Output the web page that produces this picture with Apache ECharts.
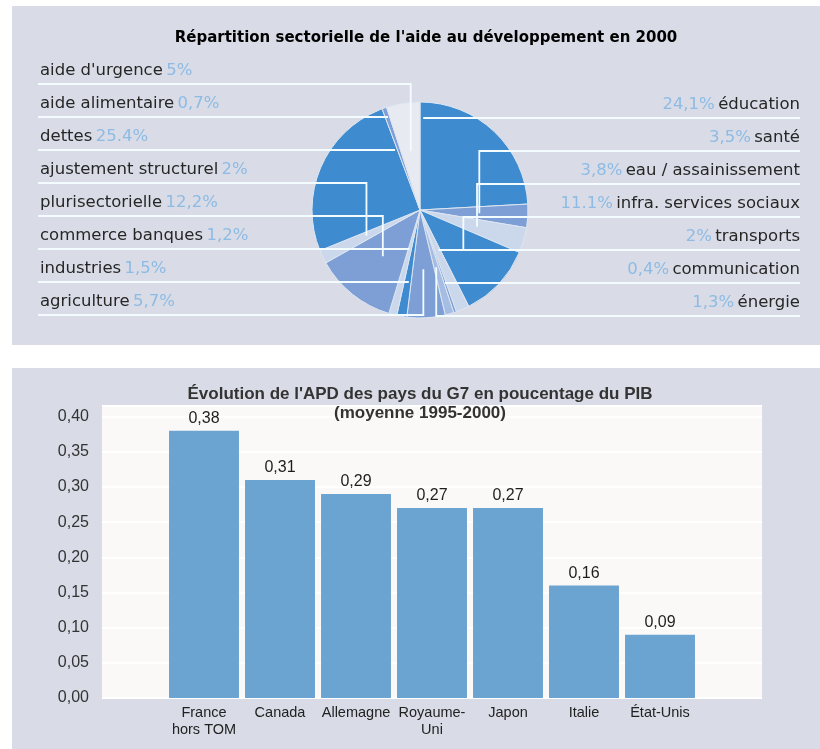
<!DOCTYPE html>
<html>
<head>
<meta charset="utf-8">
<script src="https://cdn.jsdelivr.net/npm/echarts@6/dist/echarts.min.js"></script>
<style>
  html, body { margin: 0; padding: 0; background: #fff; }
  #main { width: 820px; height: 749px; }
</style>
</head>
<body>
<div id="main"></div>
<script>
// pie : clockwise from 12 o'clock, the first 7 are labelled on the right
const pieNames = ['éducation', 'santé', 'eau / assainissement', 'infra. services sociaux', 'transports',
  'communication', 'énergie', 'agriculture', 'industries', 'commerce banques', 'plurisectorielle',
  'ajustement structurel', 'dettes', 'aide alimentaire', "aide d'urgence"];
const pieValues = [24.1, 3.5, 3.8, 11.1, 2, 0.4, 1.3, 5.7, 1.5, 1.2, 12.2, 2, 25.4, 0.7, 5];
const pieLabels = ['24,1%', '3,5%', '3,8%', '11.1%', '2%', '0,4%', '1,3%', '5,7%', '1,5%', '1,2%',
  '12,2%', '2%', '25.4%', '0,7%', '5%'];
const rightCount = 7;

// bars
const countries = ['France\nhors TOM', 'Canada', 'Allemagne', 'Royaume-\nUni', 'Japon', 'Italie', 'État-Unis'];
const apdValues = [0.38, 0.31, 0.29, 0.27, 0.27, 0.16, 0.09];

const dark = '#3f8bd0', mid = '#7d9fd5', light = '#a6bde3', pale = '#cbd8ec', blank = '#e7eaf1';
const sliceColors = [dark, mid, pale, dark, pale, mid, light, mid, dark, pale, mid, pale, dark, mid, blank];

const CX = 420, CY = 210, R = 108;
const total = pieValues.reduce((a, b) => a + b, 0);
const starts = [];
let acc = 0;
pieValues.forEach(v => { starts.push(acc / total * 360); acc += v; });

function rowY(i) {
  return i < rightCount ? 118 + i * 33 : 84 + (pieValues.length - 1 - i) * 33;
}

// put every label on its row, leader line runs along the row into the slice
function placeLabel(params) {
  const i = params.dataIndex;
  const right = i < rightCount;
  const ly = rowY(i);
  const a0 = starts[i], a1 = a0 + pieValues[i] / total * 360;
  const m = Math.min(2, (a1 - a0) / 3);
  const dy = CY - ly;
  let best = null;
  for (let t = a0 + m; t <= a1 - m + 1e-9; t += 0.25) {
    const c = Math.cos(t * Math.PI / 180);
    if (Math.abs(c) < 1e-6) continue;
    const d = dy / c;
    if (d < 0.25 * R || d > 0.95 * R) continue;
    if (!best || Math.abs(d - 0.6 * R) < Math.abs(best.d - 0.6 * R)) best = { t: t, d: d };
  }
  const edge = right ? 800 : 38;
  let pts;
  if (best) {
    const x = CX + best.d * Math.sin(best.t * Math.PI / 180);
    pts = [[x, ly], [x, ly], [edge, ly]];
  } else {
    const t = (a0 + a1) / 2 * Math.PI / 180, d = 0.55 * R;
    const x = CX + d * Math.sin(t), y = CY - d * Math.cos(t);
    pts = [[x, y], [x, ly], [edge, ly]];
  }
  return {
    x: right ? 800 : 40,
    y: ly - 13,
    align: right ? 'right' : 'left',
    verticalAlign: 'middle',
    labelLinePoints: pts
  };
}

const fmtY = v => v > 0.4001 ? '' : v.toFixed(2).replace('.', ',');
const yMax = 0.415;

const pieBase = {
  type: 'pie',
  center: [CX, CY],
  radius: R,
  startAngle: 90,
  clockwise: true,
  avoidLabelOverlap: false,
  emphasis: { disabled: true }
};

const chart = echarts.init(document.getElementById('main'));
chart.setOption({
  animation: false,
  backgroundColor: '#fff',
  graphic: [
    { type: 'rect', z: -10, shape: { x: 12, y: 6, width: 808, height: 339 }, style: { fill: '#d9dce6' } },
    { type: 'rect', z: -10, shape: { x: 12, y: 368, width: 808, height: 381 }, style: { fill: '#d9dce6' } }
  ],
  title: [
    {
      text: "Répartition sectorielle de l'aide au développement en 2000",
      left: 421, top: 26, textAlign: 'center',
      textStyle: { fontFamily: 'DejaVu Sans', fontSize: 15, fontWeight: 900, color: '#000' }
    },
    {
      text: "Évolution de l'APD des pays du G7 en poucentage du PIB\n(moyenne 1995-2000)",
      left: 415, top: 380, textAlign: 'center',
      textStyle: { fontFamily: 'Liberation Sans', fontSize: 17, fontWeight: 'bold', color: '#333', lineHeight: 19 }
    }
  ],
  grid: [
    { left: 102, right: 58, top: 406, bottom: 51, show: true, backgroundColor: '#fbf8f8', borderWidth: 0 },
    { left: 166, right: 122, top: 406, bottom: 51 }
  ],
  xAxis: [
    { gridIndex: 0, type: 'value', show: false },
    {
      gridIndex: 1, type: 'category', data: countries,
      axisLine: { show: false }, axisTick: { show: false },
      axisLabel: { interval: 0, margin: 6, color: '#222', fontFamily: 'Liberation Sans', fontSize: 14.5, lineHeight: 17 }
    }
  ],
  yAxis: [
    {
      gridIndex: 0, type: 'value', min: 0, max: yMax, interval: 0.05,
      axisLine: { show: false }, axisTick: { show: false },
      axisLabel: { formatter: fmtY, margin: 13, color: '#333', fontFamily: 'Liberation Sans', fontSize: 16 },
      splitLine: { lineStyle: { color: '#ffffff', width: 2 } }
    },
    { gridIndex: 1, type: 'value', min: 0, max: yMax, show: false }
  ],
  series: [
    Object.assign({}, pieBase, {
      z: 2,
      data: pieValues.map((v, i) => ({
        name: pieNames[i], value: v, itemStyle: { color: sliceColors[i] }
      })),
      itemStyle: { borderColor: '#dde6f2', borderWidth: 1 },
      label: { show: false },
      labelLine: { show: false }
    }),
    // same pie again, invisible, only to draw labels and leader lines above the slices
    Object.assign({}, pieBase, {
      z: 6,
      data: pieValues.map((v, i) => ({ name: pieNames[i], value: v })),
      itemStyle: { color: 'rgba(0,0,0,0)', borderWidth: 0 },
      label: {
        show: true,
        formatter: p => p.dataIndex < rightCount
          ? '{p|' + pieLabels[p.dataIndex] + '} {n|' + p.name + '}'
          : '{n|' + p.name + '} {p|' + pieLabels[p.dataIndex] + '}',
        rich: {
          n: { color: '#262626', fontFamily: 'DejaVu Sans', fontSize: 16.5 },
          p: { color: '#8dbbe4', fontFamily: 'DejaVu Sans', fontSize: 16.5 }
        }
      },
      labelLine: { show: true, length: 10, length2: 10, lineStyle: { color: '#f3fcff', width: 1.8 } },
      labelLayout: placeLabel
    }),
    {
      type: 'bar',
      xAxisIndex: 1, yAxisIndex: 1,
      data: apdValues,
      barCategoryGap: '8%',
      itemStyle: { color: '#6ba3d1' },
      label: {
        show: true, position: 'top', distance: 4,
        formatter: p => p.value.toFixed(2).replace('.', ','),
        color: '#1e1e1e', fontFamily: 'Liberation Sans', fontSize: 16
      }
    }
  ]
});
</script>
</body>
</html>
